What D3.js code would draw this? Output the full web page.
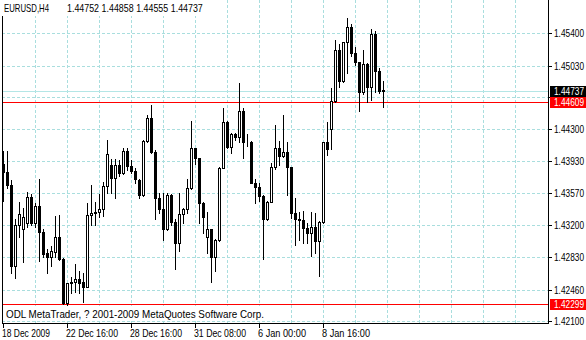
<!DOCTYPE html>
<html><head><meta charset="utf-8">
<script src="https://cdn.jsdelivr.net/npm/d3@7"></script>
<style>
body{margin:0;background:#fff}
svg{display:block}
text{font-family:"Liberation Sans",Arial,sans-serif;font-size:10.5px;fill:#000}
</style>
</head><body>
<svg id="c" width="586" height="340"></svg>
<script>
const symbol = "EURUSD,H4";
const opens = [1.43901,1.43806,1.43660,1.42734,1.43201,1.43152,1.43221,1.43519,1.43221,1.43419,
1.43124,1.42883,1.42838,1.42895,1.43067,1.42808,1.42303,1.42533,1.42548,1.42578,
1.42550,1.42494,1.43316,1.43335,1.43350,1.43385,1.43649,1.43886,1.43737,1.43886,
1.43801,1.44050,1.43878,1.43824,1.43720,1.43545,1.44165,1.44425,1.44042,1.43514,
1.43388,1.43159,1.43545,1.43236,1.42998,1.43327,1.43390,1.43622,1.44081,1.43966,
1.43457,1.43060,1.43152,1.42838,1.43030,1.43860,1.44379,1.44099,1.44240,1.44214,
1.44509,1.44157,1.44150,1.43686,1.43634,1.43537,1.43270,1.43470,1.43870,1.44081,
1.43996,1.44035,1.43863,1.43335,1.43267,1.43255,1.43163,1.43113,1.43175,1.43021,
1.43232,1.44150,1.44299,1.44624,1.45205,1.44856,1.45297,1.45469,1.45178,1.45067,
1.44723,1.45044,1.44788,1.45389,1.44971,1.44752];
const highs = [1.44050,1.44050,1.43717,1.43270,1.43465,1.43396,1.43580,1.43553,1.43450,1.43729,
1.43155,1.42922,1.42960,1.43308,1.43313,1.42823,1.42536,1.42608,1.42754,1.42674,
1.42654,1.43450,1.43660,1.43460,1.43557,1.43698,1.44176,1.43955,1.43962,1.43947,
1.44081,1.44081,1.43947,1.43852,1.43725,1.44176,1.44463,1.44578,1.44062,1.43565,
1.43565,1.43565,1.43560,1.43267,1.43572,1.43400,1.43725,1.44394,1.44090,1.43975,
1.43465,1.43354,1.43160,1.43037,1.43870,1.44540,1.44398,1.44253,1.44257,1.44827,
1.44540,1.44249,1.44165,1.43725,1.43680,1.43545,1.43476,1.43909,1.44348,1.44165,
1.44463,1.44153,1.43870,1.43508,1.43354,1.43362,1.43221,1.43354,1.43335,1.43251,
1.44157,1.44379,1.44769,1.45323,1.45274,1.45304,1.45572,1.45503,1.45246,1.45075,
1.45209,1.45056,1.45449,1.45430,1.45000,1.44858];
const lows = [1.43480,1.43629,1.42654,1.42597,1.43067,1.42780,1.43182,1.43201,1.43182,1.42788,
1.42838,1.42647,1.42731,1.42838,1.42800,1.42295,1.42226,1.42418,1.42436,1.42425,
1.42322,1.42487,1.43201,1.43201,1.43297,1.43305,1.43572,1.43572,1.43508,1.43763,
1.43786,1.43832,1.43801,1.43679,1.43508,1.43537,1.44157,1.44030,1.43273,1.43335,
1.43029,1.43144,1.43201,1.42697,1.42906,1.43228,1.43335,1.43615,1.43898,1.43221,
1.43106,1.42883,1.42544,1.42677,1.43021,1.43850,1.44081,1.44024,1.44176,1.44150,
1.43966,1.44107,1.43680,1.43450,1.43480,1.42808,1.43259,1.43462,1.43844,1.43889,
1.43985,1.43545,1.43278,1.42970,1.43029,1.42991,1.42998,1.42846,1.42883,1.42616,
1.43221,1.44004,1.44070,1.44617,1.44781,1.44845,1.44941,1.45140,1.45036,1.44509,
1.44704,1.44616,1.44635,1.44723,1.44719,1.44555];
const closes = [1.43806,1.43660,1.42734,1.43201,1.43324,1.43290,1.43519,1.43221,1.43419,1.43124,
1.42869,1.42838,1.42903,1.43067,1.42808,1.42303,1.42533,1.42548,1.42578,1.42533,
1.42494,1.43316,1.43335,1.43350,1.43385,1.43649,1.44012,1.43737,1.43886,1.43801,
1.44050,1.43878,1.43824,1.43725,1.43545,1.44165,1.44425,1.44042,1.43514,1.43388,
1.43159,1.43545,1.43236,1.42998,1.43327,1.43390,1.43622,1.44081,1.43966,1.43457,
1.43297,1.43152,1.42838,1.43030,1.43860,1.44379,1.44099,1.44242,1.44214,1.44509,
1.44157,1.44150,1.43686,1.43634,1.43537,1.43270,1.43470,1.43870,1.44081,1.43996,
1.44035,1.43863,1.43335,1.43267,1.43255,1.43163,1.43113,1.43175,1.43021,1.43232,
1.44150,1.44073,1.44624,1.45205,1.44856,1.45297,1.45469,1.45178,1.45067,1.44723,
1.45044,1.44788,1.45389,1.44971,1.44742,1.44737];
const priceTicks = [1.42100,1.42460,1.42830,1.43200,1.43570,1.43930,1.44300,1.44670,1.45030,1.45400];
const timeTickBars = [0,16,32,48,64,80];
const timeTickLabels = ["18 Dec 2009","22 Dec 16:00","28 Dec 16:00","31 Dec 08:00","6 Jan 00:00","8 Jan 16:00"];
const bidPrice = 1.44737;
const levelLines = [1.44609, 1.42299];
const copyright = "ODL MetaTrader, ? 2001-2009 MetaQuotes Software Corp.";

const L = 2, R = 548, T = 0, B = 323;
const gridColor = "#a9dede";
const fmt = d3.format(".5f");
const svg = d3.select("#c");
const x = d3.scaleLinear().domain([0, 95]).range([3, 383]);
const y = d3.scaleLinear().domain([1.421, 1.454]).range([321, 33.3]);
const px = v => Math.round(v) + 0.5;
const squeeze = (sel, w) => sel.attr("textLength", w).attr("lengthAdjust", "spacingAndGlyphs");

// grid
const g = svg.append("g").attr("stroke", gridColor).attr("stroke-dasharray", "3,2").attr("shape-rendering","crispEdges");
const vBars = d3.range(8, 140, 8).filter(i => x(i) < R - 2);
g.selectAll("line.v").data(vBars).join("line")
  .attr("x1", d => px(x(d))).attr("x2", d => px(x(d))).attr("y1", T).attr("y2", B);
g.selectAll("line.h").data(priceTicks).join("line")
  .attr("x1", L).attr("x2", R).attr("y1", d => px(y(d))).attr("y2", d => px(y(d)));

// bid line
svg.append("line").attr("x1", L).attr("x2", R).attr("y1", px(y(bidPrice))).attr("y2", px(y(bidPrice)))
  .attr("stroke", "#b4e6e6").attr("shape-rendering","crispEdges");

// level lines
svg.selectAll("line.lvl").data(levelLines).join("line")
  .attr("x1", L).attr("x2", R).attr("y1", d => px(y(d))).attr("y2", d => px(y(d)))
  .attr("stroke", "#ff0000").attr("shape-rendering","crispEdges");

// candles
const idx = d3.range(opens.length);
const cg = svg.append("g").attr("shape-rendering","crispEdges");
cg.selectAll("line.w").data(idx).join("line")
  .attr("x1", i => px(x(i))).attr("x2", i => px(x(i)))
  .attr("y1", i => Math.round(y(highs[i]))).attr("y2", i => Math.round(y(lows[i])) + 1)
  .attr("stroke", "#000");
cg.selectAll("rect.b").data(idx).join("rect")
  .attr("x", i => Math.round(x(i)) - 0.5)
  .attr("width", 2)
  .attr("y", i => Math.round(y(Math.max(opens[i], closes[i]))) + 0.5)
  .attr("height", i => Math.max(0, Math.round(y(Math.min(opens[i], closes[i]))) - Math.round(y(Math.max(opens[i], closes[i])))))
  .attr("fill", i => closes[i] >= opens[i] ? "#fff" : "#000")
  .attr("stroke", "#000");

// frame
const fr = svg.append("g").attr("stroke", "#000").attr("shape-rendering","crispEdges");
fr.append("line").attr("x1", L + 0.5).attr("x2", L + 0.5).attr("y1", T).attr("y2", B + 1);
fr.append("line").attr("x1", R + 0.5).attr("x2", R + 0.5).attr("y1", T).attr("y2", B + 1);
fr.append("line").attr("x1", L).attr("x2", R + 1).attr("y1", B + 0.5).attr("y2", B + 0.5);

// price boxes (drawn values)
const boxVals = [bidPrice].concat(levelLines);
const boxCols = ["#000", "#ff0000", "#ff0000"];

// price axis
const pa = svg.append("g");
pa.selectAll("line").data(priceTicks).join("line")
  .attr("x1", R).attr("x2", R + 4).attr("y1", d => px(y(d))).attr("y2", d => px(y(d)))
  .attr("stroke", "#000").attr("shape-rendering","crispEdges");
const visibleTicks = priceTicks.filter(t => boxVals.every(b => Math.abs(y(t) - y(b)) > 7));
squeeze(pa.selectAll("text").data(visibleTicks).join("text")
  .attr("x", 554).attr("y", d => Math.round(y(d)) + 4).text(d => fmt(d)), 30);

boxVals.forEach((v, k) => {
  const cy = Math.round(y(v));
  svg.append("rect").attr("x", 550).attr("y", cy - 5).attr("width", 36).attr("height", 11).attr("fill", boxCols[k]);
  squeeze(svg.append("text").attr("x", 554).attr("y", cy + 4).style("fill", "#fff").text(fmt(v)), 30);
});

// time axis
const ta = svg.append("g");
ta.selectAll("line").data(timeTickBars).join("line")
  .attr("x1", d => px(x(d))).attr("x2", d => px(x(d))).attr("y1", B).attr("y2", B + 5)
  .attr("stroke", "#000").attr("shape-rendering","crispEdges");
ta.selectAll("text").data(timeTickBars).join("text")
  .attr("x", (d, i) => x(d) - 1).attr("y", 337)
  .attr("textLength", (d, i) => timeTickLabels[i].length > 11 ? 52 : 48)
  .attr("lengthAdjust", "spacingAndGlyphs")
  .text((d, i) => timeTickLabels[i]);

// header
svg.append("rect").attr("x", 0).attr("y", 0).attr("width", 206).attr("height", 16).attr("fill", "#fff");
const last = opens.length - 1;
const hdrVals = [opens[last], highs[last], lows[last], closes[last]];
squeeze(svg.append("text").attr("x", 4).attr("y", 12).text(symbol), 45);
squeeze(svg.selectAll("text.hv").data(hdrVals).join("text").attr("class","hv")
  .attr("x", (d, i) => 67 + i * 34.6).attr("y", 12).text(d => fmt(d)), 32);

// copyright
svg.append("rect").attr("x", 3).attr("y", 306).attr("width", 266).attr("height", 15).attr("fill", "#fff");
squeeze(svg.append("text").attr("x", 6).attr("y", 318).text(copyright), 258);
</script>
</body></html>
